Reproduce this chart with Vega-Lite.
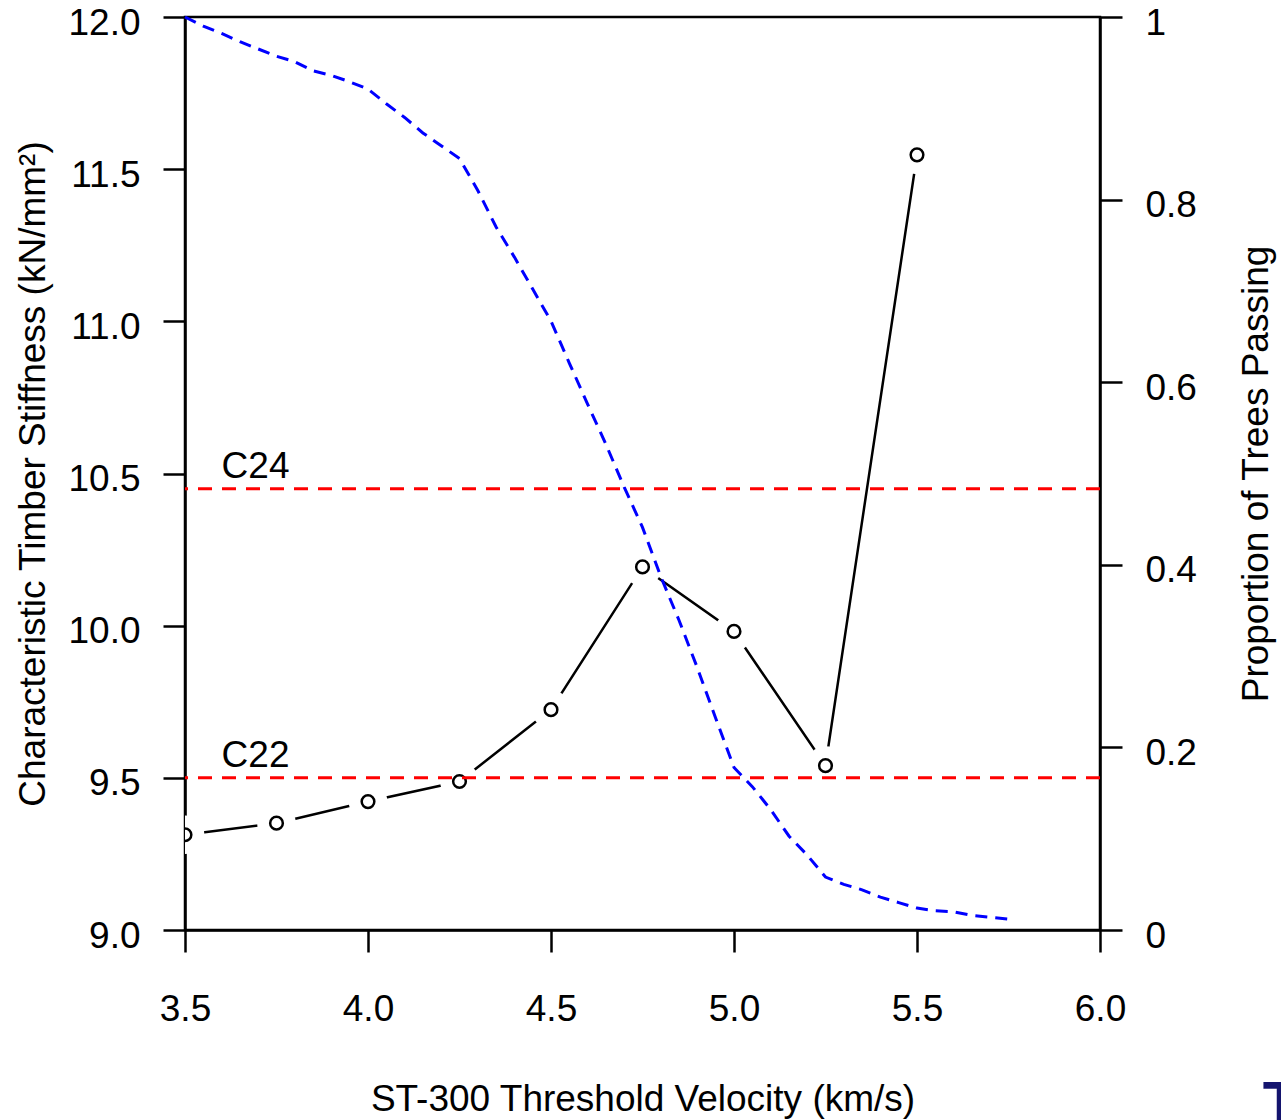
{
  "$schema": "https://vega.github.io/schema/vega-lite/v6.json",
  "width": 915,
  "height": 913,
  "autosize": {"type": "none"},
  "padding": {"left": 185, "top": 17, "right": 181, "bottom": 190},
  "background": "white",
  "config": {
    "view": {"stroke": "black", "strokeWidth": 2.5},
    "font": "Liberation Sans",
    "axis": {
      "grid": false,
      "domainColor": "black",
      "domainWidth": 2.5,
      "tickColor": "black",
      "tickWidth": 2.5,
      "tickSize": 22,
      "labelFont": "Liberation Sans",
      "labelFontSize": 37,
      "labelColor": "black",
      "labelFlush": false,
      "labelOverlap": false,
      "labelBound": false,
      "titleFont": "Liberation Sans",
      "titleFontSize": 37,
      "titleFontWeight": "normal",
      "titleColor": "black",
      "zindex": 1
    }
  },
  "datasets": {
    "stiffness": [
      {"velocity": 3.5, "stiffness": 9.313},
      {"velocity": 3.75, "stiffness": 9.351},
      {"velocity": 4.0, "stiffness": 9.422},
      {"velocity": 4.25, "stiffness": 9.488},
      {"velocity": 4.5, "stiffness": 9.724},
      {"velocity": 4.75, "stiffness": 10.193},
      {"velocity": 5.0, "stiffness": 9.981},
      {"velocity": 5.25, "stiffness": 9.54},
      {"velocity": 5.5, "stiffness": 11.547}
    ],
    "classes": [
      {"grade": "C24", "stiffness": 10.45},
      {"grade": "C22", "stiffness": 9.5}
    ],
    "passing": [
      {"velocity": 3.5, "prop": 1.0},
      {"velocity": 3.55, "prop": 0.99},
      {"velocity": 3.6, "prop": 0.982},
      {"velocity": 3.65, "prop": 0.973},
      {"velocity": 3.7, "prop": 0.965},
      {"velocity": 3.75, "prop": 0.957},
      {"velocity": 3.8, "prop": 0.951},
      {"velocity": 3.85, "prop": 0.941},
      {"velocity": 3.9, "prop": 0.936},
      {"velocity": 3.95, "prop": 0.929},
      {"velocity": 4.0, "prop": 0.921},
      {"velocity": 4.05, "prop": 0.905},
      {"velocity": 4.1, "prop": 0.89},
      {"velocity": 4.15, "prop": 0.873},
      {"velocity": 4.2, "prop": 0.859},
      {"velocity": 4.25, "prop": 0.845},
      {"velocity": 4.3, "prop": 0.81},
      {"velocity": 4.35, "prop": 0.77},
      {"velocity": 4.4, "prop": 0.737},
      {"velocity": 4.45, "prop": 0.702},
      {"velocity": 4.5, "prop": 0.667},
      {"velocity": 4.55, "prop": 0.621},
      {"velocity": 4.6, "prop": 0.576},
      {"velocity": 4.65, "prop": 0.532},
      {"velocity": 4.7, "prop": 0.485},
      {"velocity": 4.75, "prop": 0.441},
      {"velocity": 4.8, "prop": 0.387},
      {"velocity": 4.85, "prop": 0.339},
      {"velocity": 4.9, "prop": 0.287},
      {"velocity": 4.95, "prop": 0.232},
      {"velocity": 5.0, "prop": 0.178},
      {"velocity": 5.05, "prop": 0.157},
      {"velocity": 5.1, "prop": 0.132},
      {"velocity": 5.15, "prop": 0.103},
      {"velocity": 5.2, "prop": 0.082},
      {"velocity": 5.25, "prop": 0.058},
      {"velocity": 5.3, "prop": 0.05},
      {"velocity": 5.35, "prop": 0.044},
      {"velocity": 5.4, "prop": 0.036},
      {"velocity": 5.45, "prop": 0.03},
      {"velocity": 5.5, "prop": 0.024},
      {"velocity": 5.55, "prop": 0.021},
      {"velocity": 5.6, "prop": 0.02},
      {"velocity": 5.65, "prop": 0.016},
      {"velocity": 5.7, "prop": 0.014},
      {"velocity": 5.75, "prop": 0.012}
    ]
  },
  "layer": [
    {
      "layer": [
        {
          "data": {"name": "stiffness"},
          "mark": {"type": "line", "color": "black", "strokeWidth": 2.5, "strokeCap": "butt"},
          "encoding": {
            "x": {
              "field": "velocity", "type": "quantitative",
              "scale": {"domain": [3.5, 6], "nice": false, "zero": false},
              "axis": {
                "orient": "bottom",
                "values": [3.5, 4, 4.5, 5, 5.5, 6],
                "format": ".1f",
                "labelPadding": 39,
                "title": "ST-300 Threshold Velocity (km/s)",
                "titleAngle": 0,
                "titleAlign": "center",
                "titleBaseline": "alphabetic",
                "titleX": 457.5,
                "titleY": 180
              }
            },
            "y": {
              "field": "stiffness", "type": "quantitative",
              "scale": {"domain": [9, 12], "nice": false, "zero": false},
              "axis": {
                "orient": "left",
                "values": [9, 9.5, 10, 10.5, 11, 11.5, 12],
                "format": ".1f",
                "labelPadding": 23,
                "labelOffset": 6,
                "labelBaseline": "middle",
                "title": "Characteristic Timber Stiffness (kN/mm²)",
                "titleAngle": 270,
                "titleAlign": "center",
                "titleBaseline": "alphabetic",
                "titleX": -141,
                "titleY": 456.5
              }
            }
          }
        },
        {
          "data": {"name": "stiffness"},
          "mark": {"type": "point", "shape": "circle", "filled": true, "color": "white", "opacity": 1, "size": 1500, "strokeWidth": 0, "clip": true},
          "encoding": {
            "x": {"field": "velocity", "type": "quantitative", "scale": {"domain": [3.5, 6], "nice": false, "zero": false}},
            "y": {"field": "stiffness", "type": "quantitative", "scale": {"domain": [9, 12], "nice": false, "zero": false}}
          }
        },
        {
          "data": {"name": "stiffness"},
          "mark": {"type": "point", "shape": "circle", "filled": false, "color": "black", "opacity": 1, "size": 160, "strokeWidth": 2.5, "clip": true},
          "encoding": {
            "x": {"field": "velocity", "type": "quantitative", "scale": {"domain": [3.5, 6], "nice": false, "zero": false}},
            "y": {"field": "stiffness", "type": "quantitative", "scale": {"domain": [9, 12], "nice": false, "zero": false}}
          }
        },
        {
          "data": {"name": "classes"},
          "mark": {"type": "rule", "color": "#ff0000", "strokeWidth": 3, "strokeDash": [14, 10], "strokeCap": "butt"},
          "encoding": {
            "y": {"field": "stiffness", "type": "quantitative", "scale": {"domain": [9, 12], "nice": false, "zero": false}}
          }
        },
        {
          "data": {"name": "classes"},
          "mark": {"type": "text", "align": "left", "baseline": "alphabetic", "dy": -11, "fontSize": 37, "font": "Liberation Sans", "color": "black"},
          "encoding": {
            "x": {"datum": 3.6, "type": "quantitative", "scale": {"domain": [3.5, 6], "nice": false, "zero": false}},
            "y": {"field": "stiffness", "type": "quantitative", "scale": {"domain": [9, 12], "nice": false, "zero": false}},
            "text": {"field": "grade"}
          }
        },
        {
          "data": {"values": [{"label": "T"}]},
          "mark": {"type": "text", "align": "left", "baseline": "top", "fontSize": 60, "fontWeight": "bold", "font": "Liberation Sans", "color": "#14146e", "clip": false},
          "encoding": {
            "x": {"datum": 6.445, "type": "quantitative", "scale": {"domain": [3.5, 6], "nice": false, "zero": false}},
            "y": {"datum": 8.52, "type": "quantitative", "scale": {"domain": [9, 12], "nice": false, "zero": false}},
            "text": {"field": "label"}
          }
        }
      ]
    },
    {
      "data": {"name": "passing"},
      "mark": {"type": "line", "color": "#0000ff", "strokeWidth": 3, "strokeDash": [12, 8], "strokeCap": "butt"},
      "encoding": {
        "x": {"field": "velocity", "type": "quantitative", "scale": {"domain": [3.5, 6], "nice": false, "zero": false}},
        "y": {
          "field": "prop", "type": "quantitative",
          "scale": {"domain": [0, 1], "nice": false, "zero": false},
          "axis": {
            "orient": "right",
            "values": [0, 0.2, 0.4, 0.6, 0.8, 1],
            "format": "~g",
            "labelPadding": 23,
            "labelOffset": 6,
            "labelBaseline": "middle",
            "title": "Proportion of Trees Passing",
            "titleAngle": 270,
            "titleAlign": "center",
            "titleBaseline": "alphabetic",
            "titleX": 167,
            "titleY": 456.5
          }
        }
      }
    }
  ],
  "resolve": {"scale": {"y": "independent"}}
}
